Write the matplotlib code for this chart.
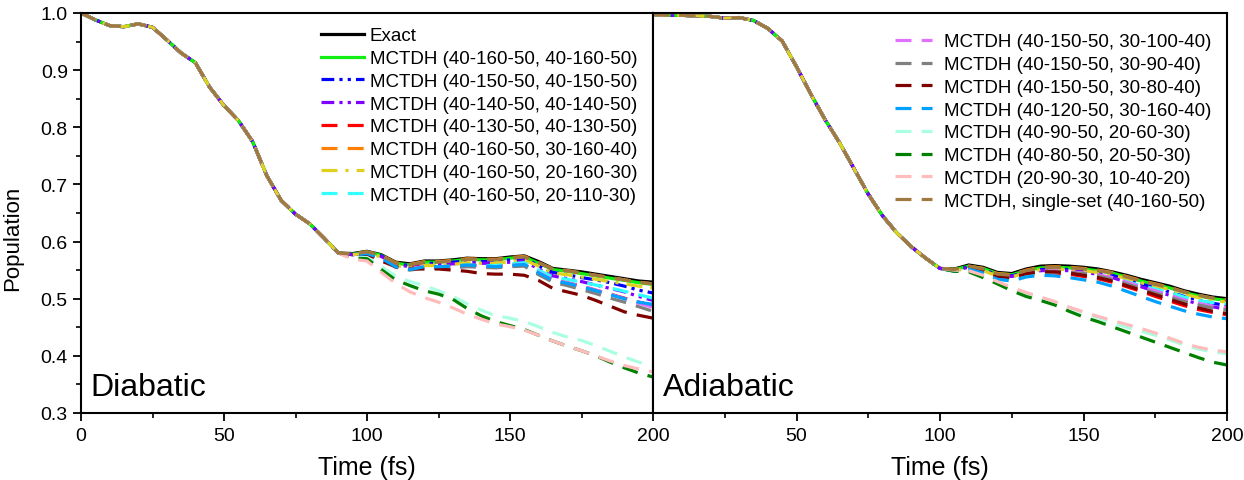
import matplotlib
matplotlib.use("Agg")
import matplotlib.pyplot as plt
from matplotlib.ticker import MultipleLocator, FixedLocator

plt.rcParams['font.family'] = ['Liberation Sans', 'DejaVu Sans']

# ---------------- data ----------------
# Diabatic panel: all curves coincide up to 90 fs
DIA_T_SHARED = [0, 5, 10, 15, 20, 25, 30, 35, 40, 45, 50, 55, 60, 65, 70, 75, 80, 85, 90]
DIA_SHARED = [1.000, 0.988, 0.978, 0.976, 0.981, 0.975, 0.953, 0.930, 0.913, 0.870,
              0.838, 0.812, 0.775, 0.715, 0.672, 0.648, 0.631, 0.606, 0.580]
DIA_T_LATE = [95, 100, 105, 110, 115, 120, 125, 130, 135, 140, 145, 150, 155, 160,
              165, 170, 175, 180, 185, 190, 195, 200]
dia_exact = [0.579, 0.583, 0.577, 0.564, 0.561, 0.566, 0.566, 0.568, 0.571, 0.570, 0.570,
             0.573, 0.575, 0.565, 0.553, 0.550, 0.547, 0.543, 0.539, 0.535, 0.531, 0.529]
dia_g160 = [0.578, 0.582, 0.576, 0.562, 0.559, 0.564, 0.564, 0.566, 0.569, 0.568, 0.568,
            0.571, 0.573, 0.562, 0.551, 0.548, 0.544, 0.540, 0.536, 0.532, 0.528, 0.525]
dia_b150 = [0.577, 0.581, 0.575, 0.561, 0.558, 0.562, 0.562, 0.564, 0.566, 0.565, 0.565,
            0.568, 0.571, 0.558, 0.546, 0.542, 0.537, 0.533, 0.528, 0.522, 0.515, 0.510]
dia_p140 = [0.577, 0.580, 0.574, 0.560, 0.556, 0.560, 0.560, 0.561, 0.563, 0.562, 0.562,
            0.564, 0.566, 0.552, 0.540, 0.535, 0.530, 0.524, 0.518, 0.512, 0.504, 0.497]
dia_r130 = [0.576, 0.579, 0.572, 0.557, 0.553, 0.557, 0.556, 0.557, 0.559, 0.558, 0.557,
            0.559, 0.560, 0.545, 0.533, 0.528, 0.522, 0.515, 0.508, 0.501, 0.494, 0.488]
dia_o30160 = [0.578, 0.582, 0.576, 0.563, 0.560, 0.565, 0.565, 0.567, 0.570, 0.569, 0.569,
              0.572, 0.574, 0.563, 0.552, 0.549, 0.545, 0.541, 0.537, 0.533, 0.529, 0.526]
dia_y20160 = [0.577, 0.580, 0.573, 0.558, 0.554, 0.558, 0.558, 0.560, 0.563, 0.562, 0.562,
              0.565, 0.568, 0.557, 0.545, 0.542, 0.538, 0.534, 0.530, 0.526, 0.522, 0.519]
dia_c20110 = [0.576, 0.579, 0.572, 0.556, 0.552, 0.556, 0.556, 0.557, 0.559, 0.558, 0.558,
              0.561, 0.563, 0.550, 0.538, 0.534, 0.529, 0.524, 0.519, 0.513, 0.507, 0.501]
dia_v30100 = [0.576, 0.579, 0.572, 0.556, 0.552, 0.556, 0.555, 0.556, 0.558, 0.557, 0.556,
              0.558, 0.560, 0.546, 0.533, 0.528, 0.522, 0.515, 0.508, 0.500, 0.492, 0.485]
dia_k3090 = [0.575, 0.578, 0.571, 0.555, 0.550, 0.554, 0.553, 0.554, 0.556, 0.555, 0.554,
             0.556, 0.557, 0.542, 0.529, 0.523, 0.516, 0.509, 0.501, 0.494, 0.486, 0.478]
dia_dr3080 = [0.575, 0.578, 0.566, 0.556, 0.552, 0.552, 0.552, 0.550, 0.548, 0.544, 0.543,
              0.543, 0.541, 0.532, 0.518, 0.512, 0.506, 0.497, 0.487, 0.477, 0.471, 0.466]
dia_db120 = [0.576, 0.579, 0.571, 0.556, 0.551, 0.556, 0.556, 0.557, 0.559, 0.558, 0.556,
             0.558, 0.560, 0.545, 0.532, 0.527, 0.521, 0.514, 0.507, 0.500, 0.494, 0.490]
dia_aq90 = [0.572, 0.572, 0.556, 0.540, 0.530, 0.523, 0.514, 0.504, 0.491, 0.480, 0.470,
            0.466, 0.460, 0.451, 0.441, 0.433, 0.427, 0.418, 0.408, 0.398, 0.389, 0.383]
dia_dg80 = [0.571, 0.570, 0.551, 0.533, 0.523, 0.514, 0.508, 0.499, 0.483, 0.470, 0.460,
            0.453, 0.446, 0.436, 0.426, 0.417, 0.409, 0.400, 0.389, 0.379, 0.370, 0.363]
dia_pk20 = [0.569, 0.566, 0.546, 0.527, 0.512, 0.502, 0.494, 0.484, 0.473, 0.464, 0.456,
            0.451, 0.445, 0.436, 0.426, 0.417, 0.409, 0.400, 0.391, 0.383, 0.377, 0.372]
dia_single = [0.578, 0.582, 0.576, 0.562, 0.559, 0.564, 0.564, 0.566, 0.569, 0.568, 0.568,
              0.571, 0.573, 0.563, 0.552, 0.549, 0.545, 0.541, 0.537, 0.533, 0.529, 0.526]

# Adiabatic panel: all curves coincide up to 100 fs
ADI_T_SHARED = [0, 5, 10, 15, 20, 25, 30, 35, 40, 45, 50, 55, 60, 65, 70, 75, 80, 85, 90, 95, 100]
ADI_SHARED = [0.997, 0.996, 0.996, 0.995, 0.994, 0.991, 0.992, 0.987, 0.973, 0.951, 0.906,
              0.858, 0.813, 0.773, 0.728, 0.683, 0.645, 0.615, 0.591, 0.571, 0.553]
ADI_T_LATE = [105, 110, 115, 120, 125, 130, 135, 140, 145, 150, 155, 160, 165, 170, 175,
              180, 185, 190, 195, 200]
adi_exact = [0.552, 0.559, 0.555, 0.546, 0.544, 0.552, 0.557, 0.558, 0.557, 0.555, 0.552,
             0.547, 0.541, 0.534, 0.528, 0.522, 0.514, 0.508, 0.503, 0.500]
adi_g160 = [0.551, 0.557, 0.553, 0.544, 0.542, 0.549, 0.554, 0.555, 0.554, 0.552, 0.549,
            0.545, 0.538, 0.531, 0.525, 0.519, 0.511, 0.505, 0.500, 0.497]
adi_b150 = [0.550, 0.556, 0.551, 0.542, 0.540, 0.546, 0.551, 0.552, 0.551, 0.549, 0.546,
            0.541, 0.533, 0.526, 0.519, 0.512, 0.504, 0.498, 0.492, 0.488]
adi_p140 = [0.550, 0.555, 0.550, 0.541, 0.539, 0.545, 0.549, 0.550, 0.549, 0.546, 0.543,
            0.537, 0.529, 0.521, 0.513, 0.506, 0.498, 0.491, 0.486, 0.481]
adi_r130 = [0.549, 0.554, 0.548, 0.538, 0.536, 0.542, 0.545, 0.545, 0.543, 0.539, 0.535,
            0.529, 0.521, 0.513, 0.504, 0.496, 0.488, 0.481, 0.476, 0.472]
adi_o30160 = [0.551, 0.557, 0.553, 0.544, 0.542, 0.550, 0.555, 0.556, 0.555, 0.553, 0.550,
              0.546, 0.539, 0.532, 0.526, 0.520, 0.512, 0.506, 0.501, 0.498]
adi_y20160 = [0.549, 0.553, 0.549, 0.540, 0.538, 0.546, 0.551, 0.552, 0.551, 0.549, 0.546,
              0.542, 0.535, 0.528, 0.522, 0.516, 0.508, 0.502, 0.497, 0.494]
adi_c20110 = [0.549, 0.553, 0.547, 0.537, 0.535, 0.542, 0.546, 0.547, 0.546, 0.544, 0.541,
              0.537, 0.530, 0.523, 0.517, 0.511, 0.503, 0.497, 0.493, 0.491]
adi_v30100 = [0.549, 0.554, 0.549, 0.539, 0.537, 0.544, 0.548, 0.549, 0.547, 0.545, 0.542,
              0.537, 0.529, 0.521, 0.514, 0.506, 0.498, 0.492, 0.487, 0.484]
adi_k3090 = [0.549, 0.554, 0.549, 0.539, 0.537, 0.544, 0.548, 0.548, 0.546, 0.544, 0.540,
             0.534, 0.526, 0.518, 0.510, 0.503, 0.495, 0.489, 0.484, 0.480]
adi_dr3080 = [0.550, 0.555, 0.549, 0.539, 0.537, 0.544, 0.547, 0.547, 0.545, 0.541, 0.537,
              0.531, 0.523, 0.515, 0.507, 0.499, 0.491, 0.484, 0.478, 0.474]
adi_db120 = [0.548, 0.552, 0.545, 0.534, 0.531, 0.538, 0.541, 0.540, 0.537, 0.533, 0.529,
             0.522, 0.513, 0.504, 0.495, 0.487, 0.479, 0.473, 0.468, 0.465]
adi_aq90 = [0.549, 0.548, 0.539, 0.527, 0.517, 0.509, 0.502, 0.494, 0.485, 0.475, 0.467,
            0.458, 0.450, 0.443, 0.436, 0.428, 0.419, 0.412, 0.407, 0.404]
adi_dg80 = [0.548, 0.547, 0.537, 0.526, 0.514, 0.504, 0.497, 0.489, 0.478, 0.468, 0.460,
            0.451, 0.442, 0.433, 0.424, 0.415, 0.406, 0.397, 0.389, 0.384]
adi_pk20 = [0.550, 0.549, 0.541, 0.530, 0.520, 0.511, 0.503, 0.495, 0.485, 0.477, 0.469,
            0.462, 0.455, 0.448, 0.440, 0.431, 0.422, 0.415, 0.410, 0.407]
adi_single = [0.551, 0.557, 0.552, 0.543, 0.541, 0.549, 0.554, 0.555, 0.554, 0.552, 0.549,
              0.545, 0.538, 0.531, 0.525, 0.519, 0.512, 0.506, 0.501, 0.498]

LABELS = ["Exact",
          "MCTDH (40-160-50, 40-160-50)",
          "MCTDH (40-150-50, 40-150-50)",
          "MCTDH (40-140-50, 40-140-50)",
          "MCTDH (40-130-50, 40-130-50)",
          "MCTDH (40-160-50, 30-160-40)",
          "MCTDH (40-160-50, 20-160-30)",
          "MCTDH (40-160-50, 20-110-30)",
          "MCTDH (40-150-50, 30-100-40)",
          "MCTDH (40-150-50, 30-90-40)",
          "MCTDH (40-150-50, 30-80-40)",
          "MCTDH (40-120-50, 30-160-40)",
          "MCTDH (40-90-50, 20-60-30)",
          "MCTDH (40-80-50, 20-50-30)",
          "MCTDH (20-90-30, 10-40-20)",
          "MCTDH, single-set (40-160-50)"]

DIA_SERIES = [dia_exact, dia_g160, dia_b150, dia_p140, dia_r130, dia_o30160, dia_y20160,
              dia_c20110, dia_v30100, dia_k3090, dia_dr3080, dia_db120, dia_aq90, dia_dg80,
              dia_pk20, dia_single]
ADI_SERIES = [adi_exact, adi_g160, adi_b150, adi_p140, adi_r130, adi_o30160, adi_y20160,
              adi_c20110, adi_v30100, adi_k3090, adi_dr3080, adi_db120, adi_aq90, adi_dg80,
              adi_pk20, adi_single]

COLORS = ['#000000', '#11ee11', '#0000ff', '#8000ff', '#ff0000', '#ff8000', '#e0d020',
          '#33ffff', '#e070ff', '#808080', '#800000', '#00a0ff', '#aaffe0', '#008000',
          '#ffbcbc', '#a07840']
DASH = (0, (5, 3.2))
STYLES = ['-', '-', (0, (4, 1.6, 1, 1.6, 1, 1.6)), (0, (4, 1.6, 1, 1.6, 1, 1.6)), DASH, DASH,
          (0, (5, 2.5, 1, 2.5)), DASH, DASH, DASH, DASH, DASH, DASH, DASH, DASH, DASH]

# ---------------- figure ----------------
fig = plt.figure(figsize=(12.44, 4.81), dpi=100)
axL = fig.add_axes([81 / 1244, 67 / 481, 572 / 1244, 400 / 481])
axR = fig.add_axes([653 / 1244, 67 / 481, 574 / 1244, 400 / 481])

handles = []
for i in range(len(LABELS)):
    lw = 2.3
    hL, = axL.plot(DIA_T_SHARED + DIA_T_LATE, DIA_SHARED + DIA_SERIES[i], color=COLORS[i],
                   linestyle=STYLES[i], lw=lw, label=LABELS[i])
    axR.plot(ADI_T_SHARED + ADI_T_LATE, ADI_SHARED + ADI_SERIES[i], color=COLORS[i],
             linestyle=STYLES[i], lw=lw)
    handles.append(hL)

for ax in (axL, axR):
    ax.set_xlim(0, 200)
    ax.set_ylim(0.3, 1.0)
    for s in ax.spines.values():
        s.set_linewidth(1.5)
    ax.xaxis.set_major_locator(MultipleLocator(50))
    ax.xaxis.set_minor_locator(MultipleLocator(25))
    ax.tick_params(axis='x', which='major', direction='out', length=6, width=1.3,
                   labelsize=14, pad=4)
    ax.tick_params(axis='x', which='minor', direction='out', length=3.5, width=1.2)
    ax.set_xlabel("Time (fs)", fontsize=18, labelpad=8)

axR.xaxis.set_major_locator(FixedLocator([50, 100, 150, 200]))
axR.xaxis.set_minor_locator(FixedLocator([25, 75, 125, 175]))
axR.tick_params(axis='y', which='both', left=False, labelleft=False)

axL.yaxis.set_major_locator(MultipleLocator(0.1))
axL.yaxis.set_minor_locator(MultipleLocator(0.05))
axL.tick_params(axis='y', which='major', direction='out', length=6, width=1.3, labelsize=14)
axL.tick_params(axis='y', which='minor', direction='out', length=3.5, width=1.2)
axL.set_ylabel("Population", fontsize=16)
axL.yaxis.set_label_coords(-0.102, 0.44)
axL.yaxis.set_major_formatter(matplotlib.ticker.FormatStrFormatter('%.1f'))

axL.text(0.016, 0.045, "Diabatic", transform=axL.transAxes, fontsize=23, ha='left', va='baseline')
axR.text(0.017, 0.045, "Adiabatic", transform=axR.transAxes, fontsize=23, ha='left', va='baseline')

legL = axL.legend(handles=handles[:8], loc='upper right', bbox_to_anchor=(0.992, 0.9925),
                  frameon=False, fontsize=13.5, handlelength=2.3, handletextpad=0.3,
                  labelspacing=0.3, borderaxespad=0.2)
legR = axR.legend(handles=handles[8:], loc='upper right', bbox_to_anchor=(0.992, 0.9775),
                  frameon=False, fontsize=13.5, handlelength=2.0, handletextpad=0.62,
                  labelspacing=0.3, borderaxespad=0.2)

fig.savefig("out.png", dpi=100)
